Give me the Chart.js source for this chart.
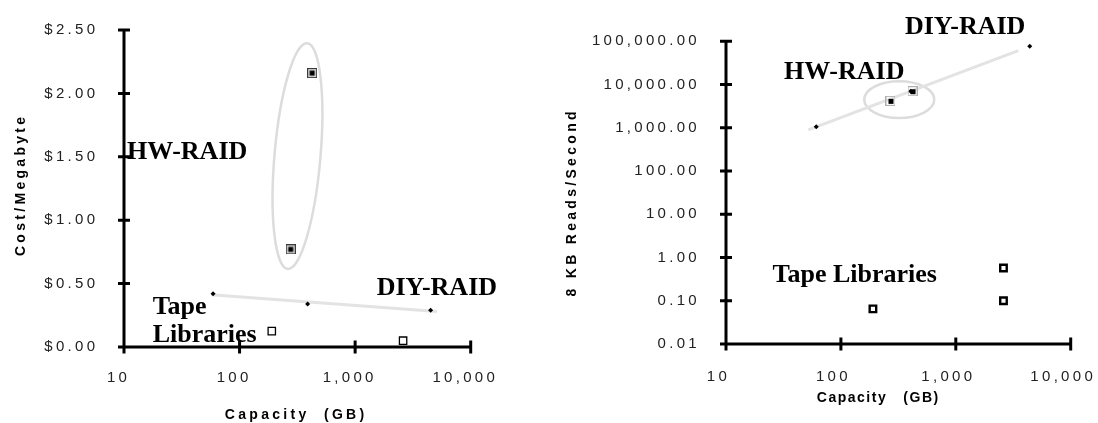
<!DOCTYPE html>
<html><head><meta charset="utf-8">
<script src="https://cdn.jsdelivr.net/npm/chart.js@4/dist/chart.umd.min.js"></script>
<style>
html,body{margin:0;padding:0;background:#fff;}
#wrap{position:relative;width:1098px;height:423px;overflow:hidden;background:#fff;}
.box{position:absolute;top:0;width:549px;height:423px;}
#b1{left:0}#b2{left:549px}
</style></head><body>
<div id="wrap"><div class="box" id="b1"><canvas id="c1"></canvas></div><div class="box" id="b2"><canvas id="c2"></canvas></div></div>
<script>
// ---------- data: left chart (cost per megabyte vs capacity) ----------
const hwCapacityGB   = [277, 425];
const hwCostPerMB    = [0.77, 2.16];
const diyCapacityGB  = [59, 388, 4500];
const diyCostPerMB   = [0.42, 0.34, 0.29];
const tapeCapacityGB = [190, 2600];
const tapeCostPerMB  = [0.125, 0.05];

// ---------- data: right chart (8 KB reads/second vs capacity) ----------
const hwReadCapacityGB   = [270, 420];
const hwReadsPerSec      = [4200, 7000];
const diyReadCapacityGB  = [61, 405, 4400];
const diyReadsPerSec     = [1050, 7000, 77000];
const tapeReadCapacityGB = [190, 2600, 2600];
const tapeReadsPerSec    = [0.065, 0.57, 0.10];

// ---------- ticks ----------
const capacityTicks      = [10, 100, 1000, 10000];
const capacityTickLabels = ['10', '100', '1,000', '10,000'];
const costTicks          = [0, 0.5, 1, 1.5, 2, 2.5];
const costTickLabels     = ['$0.00', '$0.50', '$1.00', '$1.50', '$2.00', '$2.50'];
const readsTicks         = [0.01, 0.1, 1, 10, 100, 1000, 10000, 100000];
const readsTickLabels    = ['0.01', '0.10', '1.00', '10.00', '100.00', '1,000.00', '10,000.00', '100,000.00'];

// trendline spans (capacity, GB)
const leftTrendSpan  = [57, 5100];
const rightTrendSpan = [52, 3500];

// least-squares trend on log capacity (and optionally log value)
function trendFn(xs, ys, logY) {
  const lx = xs.map(Math.log10), ly = logY ? ys.map(Math.log10) : ys.slice();
  const n = lx.length;
  const mx = lx.reduce((a, b) => a + b, 0) / n, my = ly.reduce((a, b) => a + b, 0) / n;
  let sxy = 0, sxx = 0;
  for (let i = 0; i < n; i++) { sxy += (lx[i] - mx) * (ly[i] - my); sxx += (lx[i] - mx) ** 2; }
  const b = sxy / sxx, a = my - b * mx;
  return x => { const v = a + b * Math.log10(x); return logY ? Math.pow(10, v) : v; };
}
const pts = (xs, ys) => xs.map((x, i) => ({x, y: ys[i]}));

// marker images
function hwMarkerLeft() {
  const c = document.createElement('canvas'); c.width = c.height = 10;
  const g = c.getContext('2d');
  g.fillStyle = '#3a3a3a'; g.fillRect(0, 0, 10, 10);
  g.fillStyle = '#d4d4d4'; g.fillRect(1, 1, 8, 8);
  g.fillStyle = '#000'; g.fillRect(2.5, 2.5, 5, 5);
  return c;
}
function hwMarkerRight() {
  const c = document.createElement('canvas'); c.width = c.height = 10;
  const g = c.getContext('2d');
  g.strokeStyle = '#b0b0b0'; g.lineWidth = 1; g.strokeRect(0.5, 0.5, 9, 9);
  g.fillStyle = '#000'; g.fillRect(3, 3, 5, 5);
  return c;
}

const TICK_FONT = {family: '"Liberation Sans", Arial, sans-serif', size: 15};
const TICK_COLOR = '#222';

const spacingPlugin = {
  id: 'spacing',
  beforeDraw(chart) { chart.ctx.letterSpacing = '3.3px'; }
};

const crossAxesPlugin = {
  id: 'crossAxes',
  beforeDatasetsDraw(chart) {
    const {ctx, chartArea: a, scales: {x, y}} = chart;
    ctx.save();
    ctx.strokeStyle = '#000'; ctx.lineWidth = 3; ctx.lineCap = 'butt';
    ctx.beginPath();
    ctx.moveTo(a.left, a.top - 1.5); ctx.lineTo(a.left, a.bottom + 1.5);
    ctx.moveTo(a.left - 1.5, a.bottom); ctx.lineTo(a.right + 1.5, a.bottom);
    x.ticks.forEach(t => { const p = x.getPixelForValue(t.value); ctx.moveTo(p, a.bottom - 6.5); ctx.lineTo(p, a.bottom + 6.5); });
    y.ticks.forEach(t => { const p = y.getPixelForValue(t.value); ctx.moveTo(a.left - 6, p); ctx.lineTo(a.left + 6, p); });
    ctx.stroke();
    ctx.restore();
  }
};

const notesPlugin = {
  id: 'notes',
  beforeDatasetsDraw(chart, args, opts) {
    const {ctx, scales: {x, y}} = chart;
    ctx.save();
    (opts.ellipses || []).forEach(e => {
      ctx.beginPath();
      ctx.ellipse(x.getPixelForValue(e.x), y.getPixelForValue(e.y), e.rx, e.ry, e.rot || 0, 0, Math.PI * 2);
      ctx.strokeStyle = '#dcdcdc'; ctx.lineWidth = 2.5; ctx.stroke();
    });
    ctx.restore();
  },
  afterDatasetsDraw(chart, args, opts) {
    const {ctx, scales: {x, y}} = chart;
    ctx.save();
    ctx.letterSpacing = '0px';
    ctx.fillStyle = '#000';
    ctx.font = 'bold 26px "Liberation Serif", "Times New Roman", serif';
    ctx.textAlign = 'left'; ctx.textBaseline = 'alphabetic';
    (opts.labels || []).forEach(l => ctx.fillText(l.text, x.getPixelForValue(l.x), y.getPixelForValue(l.y)));
    ctx.restore();
  }
};

const titlesPlugin = {
  id: 'axisTitles',
  afterDraw(chart, args, opts) {
    const ctx = chart.ctx;
    (opts.items || []).forEach(t => {
      ctx.save();
      ctx.letterSpacing = t.spacing + 'px';
      ctx.font = 'bold 14px "Liberation Sans", Arial, sans-serif';
      ctx.fillStyle = '#000'; ctx.textAlign = 'center'; ctx.textBaseline = 'middle';
      ctx.translate(t.x, t.y); ctx.rotate(t.rot || 0);
      ctx.fillText(t.text, t.spacing / 2, 0);
      ctx.restore();
    });
  }
};

function scaleX(height, pad, offset) {
  return {
    type: 'logarithmic', position: 'bottom', min: 10, max: 10000,
    afterBuildTicks: s => { s.ticks = capacityTicks.map(v => ({value: v})); },
    afterFit: s => { s.height = height; s.paddingLeft = 0; s.paddingRight = 0; },
    grid: {display: false, drawTicks: false, tickLength: 0},
    border: {display: false},
    ticks: {autoSkip: false, maxRotation: 0, minRotation: 0, padding: pad, labelOffset: offset,
      color: TICK_COLOR, font: TICK_FONT, callback: (v, i) => capacityTickLabels[i]}
  };
}

// ---------- left chart ----------
const leftTrend = trendFn(diyCapacityGB, diyCostPerMB, false);
new Chart(document.getElementById('c1'), {
  type: 'scatter',
  data: {datasets: [
    {label: 'DIY-RAID trend', data: leftTrendSpan.map(x => ({x, y: leftTrend(x)})), showLine: true,
     borderColor: '#e3e3e3', borderWidth: 3, pointRadius: 0, order: 10},
    {label: 'HW-RAID', data: pts(hwCapacityGB, hwCostPerMB), pointStyle: hwMarkerLeft(), order: 1},
    {label: 'DIY-RAID', data: pts(diyCapacityGB, diyCostPerMB), pointStyle: 'rectRot', pointRadius: 2.5,
     backgroundColor: '#000', borderColor: '#000', borderWidth: 0, order: 1},
    {label: 'Tape Libraries', data: pts(tapeCapacityGB, tapeCostPerMB), pointStyle: 'rect', pointRadius: 5.2,
     backgroundColor: '#fff', borderColor: '#000', borderWidth: 1.3, order: 1}
  ]},
  options: {
    responsive: true, maintainAspectRatio: false, animation: false, devicePixelRatio: 1,
    layout: {padding: {top: 30, right: 78.3, bottom: 0, left: 0}},
    scales: {
      x: scaleX(76, 21.5, -5.4),
      y: {
        type: 'linear', min: 0, max: 2.5,
        afterBuildTicks: s => { s.ticks = costTicks.map(v => ({value: v})); },
        afterFit: s => { s.width = 124; s.paddingTop = 0; s.paddingBottom = 0; },
        grid: {display: false, drawTicks: false, tickLength: 0},
        border: {display: false},
        ticks: {padding: 25.7, color: TICK_COLOR, font: TICK_FONT, callback: (v, i) => costTickLabels[i]}
      }
    },
    plugins: {
      legend: {display: false}, tooltip: {enabled: false},
      notes: {
        ellipses: [{x: 317, y: 1.506, rx: 23, ry: 113.3, rot: 0.086}],
        labels: [
          {text: 'HW-RAID', x: 10.6, y: 1.48},
          {text: 'DIY-RAID', x: 1535, y: 0.41},
          {text: 'Tape', x: 17.7, y: 0.26},
          {text: 'Libraries', x: 17.7, y: 0.042}
        ]
      },
      axisTitles: {items: [
        {text: 'Cost/Megabyte', x: 21, y: 186.5, rot: -Math.PI / 2, spacing: 3.3},
        {text: 'Capacity  (GB)', x: 294.5, y: 415, spacing: 3.3}
      ]}
    }
  },
  plugins: [spacingPlugin, crossAxesPlugin, notesPlugin, titlesPlugin]
});

// ---------- right chart ----------
const rightTrend = trendFn(diyReadCapacityGB, diyReadsPerSec, true);
new Chart(document.getElementById('c2'), {
  type: 'scatter',
  data: {datasets: [
    {label: 'DIY-RAID trend', data: rightTrendSpan.map(x => ({x, y: rightTrend(x)})), showLine: true,
     borderColor: '#e3e3e3', borderWidth: 3, pointRadius: 0, order: 10},
    {label: 'HW-RAID', data: pts(hwReadCapacityGB, hwReadsPerSec), pointStyle: hwMarkerRight(), order: 1},
    {label: 'DIY-RAID', data: pts(diyReadCapacityGB, diyReadsPerSec), pointStyle: 'rectRot', pointRadius: 2.5,
     backgroundColor: '#000', borderColor: '#000', borderWidth: 0, order: 1},
    {label: 'Tape Libraries', data: pts(tapeReadCapacityGB, tapeReadsPerSec), pointStyle: 'rect', pointRadius: 4.6,
     backgroundColor: '#fff', borderColor: '#000', borderWidth: 2.4, order: 1}
  ]},
  options: {
    responsive: true, maintainAspectRatio: false, animation: false, devicePixelRatio: 1,
    layout: {padding: {top: 41.3, right: 27.3, bottom: 0, left: 0}},
    scales: {
      x: scaleX(79, 23.7, -7.5),
      y: {
        type: 'logarithmic', min: 0.01, max: 100000,
        afterBuildTicks: s => { s.ticks = readsTicks.map(v => ({value: v})); },
        afterFit: s => { s.width = 177; s.paddingTop = 0; s.paddingBottom = 0; },
        grid: {display: false, drawTicks: false, tickLength: 0},
        border: {display: false},
        ticks: {autoSkip: false, padding: 26, color: TICK_COLOR, font: TICK_FONT, callback: (v, i) => readsTickLabels[i]}
      }
    },
    plugins: {
      legend: {display: false}, tooltip: {enabled: false},
      notes: {
        ellipses: [{x: 322, y: 4480, rx: 35, ry: 18.3, rot: 0}],
        labels: [
          {text: 'HW-RAID', x: 32, y: 13700},
          {text: 'DIY-RAID', x: 361, y: 144000},
          {text: 'Tape Libraries', x: 25.4, y: 0.275}
        ]
      },
      axisTitles: {items: [
        {text: '8 KB Reads/Second', x: 22.7, y: 204, rot: -Math.PI / 2, spacing: 3.3},
        {text: 'Capacity   (GB)', x: 328.5, y: 398, spacing: 1.5}
      ]}
    }
  },
  plugins: [spacingPlugin, crossAxesPlugin, notesPlugin, titlesPlugin]
});
</script>
</body></html>
